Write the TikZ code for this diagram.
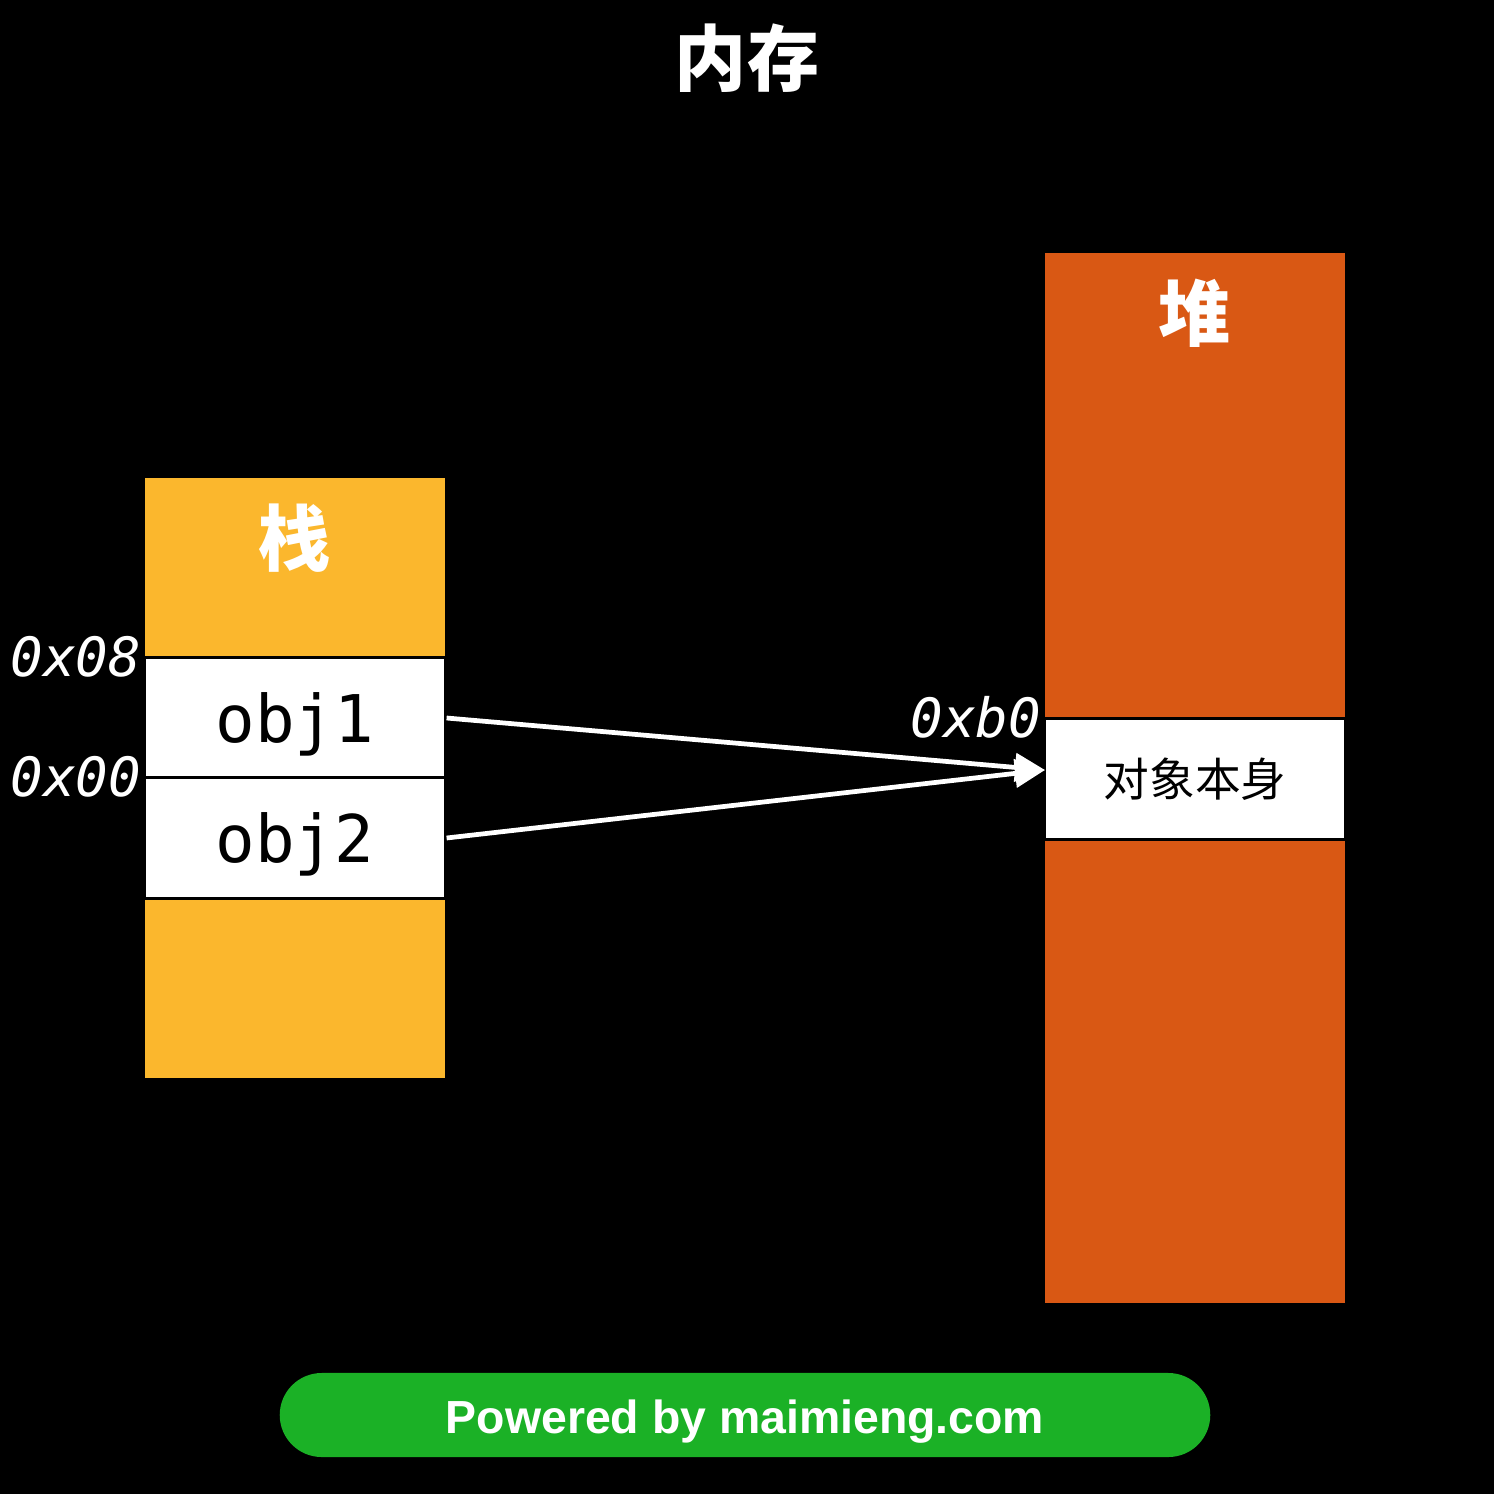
\documentclass[tikz,border=0pt]{standalone}
\usepackage{fontspec}
\setmainfont{Liberation Sans}
\setmonofont{DejaVu Sans Mono}
\newfontfamily\cjk{Noto Sans CJK SC}
\usepackage{tikz}
\usetikzlibrary{arrows.meta,backgrounds,calc}
\definecolor{stackcol}{RGB}{251,183,45}
\definecolor{heapcol}{RGB}{217,88,20}
\definecolor{badgecol}{RGB}{27,177,38}

\begin{document}
\begin{tikzpicture}[x=0.01cm,y=-0.01cm,
  area/.style={inner sep=0pt,minimum width=3cm},
  cell/.style={draw=black,line width=0.85pt,fill=white,inner sep=0pt,minimum width=3cm,minimum height=1.2cm,font=\ttfamily\fontsize{18.7}{20}\selectfont},
  addr/.style={anchor=east,text=white,inner sep=0.5pt,font=\ttfamily\itshape\fontsize{15.4}{16}\selectfont},
  head/.style={text=white,inner sep=0pt,font=\cjk\bfseries\fontsize{20.5}{22}\selectfont},
  link/.style={draw=white,line width=1.35pt,-{Triangle[length=0.3cm,width=0.28cm]}}]
\useasboundingbox (0,0) rectangle (1494,1494);
\fill[black] (0,0) rectangle (1494,1494);

\node[head] (title) at (747,58) {内存};

\node[area,fill=stackcol,minimum height=6cm] (stack) at (295,778) {};
\node[head] (stacklabel) at (295,538) {栈};
\node[cell,text depth=0pt] (obj1) at (295,718) {obj1};
\node[cell,text depth=0pt] (obj2) at (295,838) {obj2};
\node[addr] (a08) at (obj1.north west) {0x08};
\node[addr] (a00) at (obj2.north west) {0x00};

\node[area,fill=heapcol,minimum height=10.5cm] (heap) at (1195,778) {};
\node[head] (heaplabel) at (1195,313) {堆};
\node[cell,font=\cjk\fontsize{13}{14}\selectfont] (object) at (1195,779) {对象本身};
\node[addr] (ab0) at (object.north west) {0xb0};

\coordinate (tip) at (1045,770);
\draw[link] (obj1.east) -- (tip);
\draw[link] (obj2.east) -- (tip);

\node[fill=badgecol,rounded corners=0.42cm,minimum width=9.3cm,minimum height=0.84cm,inner sep=0pt] (badge) at (745,1415) {};
\node[text=white,inner sep=0pt,font=\bfseries\fontsize{13.2}{14}\selectfont] (powered) at ($(badge.center)+(0,7)$) {Powered by maimieng.com};
\end{tikzpicture}
\end{document}
